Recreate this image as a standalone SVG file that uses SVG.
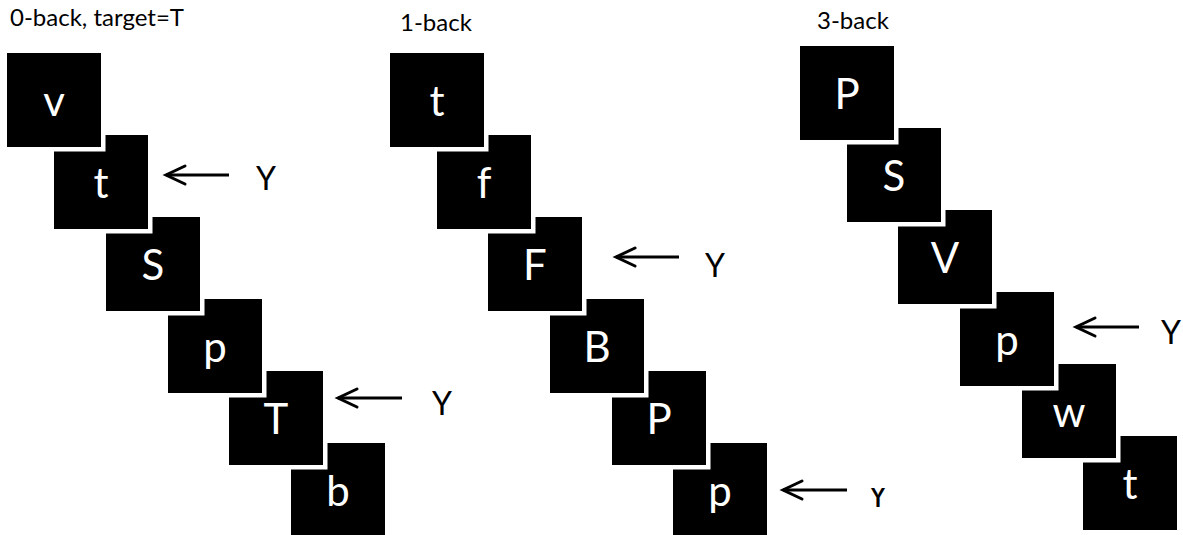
<svg xmlns="http://www.w3.org/2000/svg" width="1183" height="535" viewBox="0 0 1183 535">
  <style>
    .card { fill: #000; stroke: #fff; stroke-width: 9; paint-order: stroke; }
    .letter { fill: #fff; font-family: Lato, "Liberation Sans", sans-serif; font-size: 42px; text-anchor: middle; }
    .title { fill: #000; font-family: Lato, "Liberation Sans", sans-serif; font-size: 24px; }
    .resp { fill: #000; font-family: Lato, "Liberation Sans", sans-serif; font-size: 32px; }
    .arrow { stroke: #000; stroke-width: 3; fill: none; marker-end: url(#head); }
  </style>
  <defs>
    <marker id="head" markerUnits="userSpaceOnUse" viewBox="-24 -12 26 24" refX="0" refY="0" markerWidth="26" markerHeight="24" orient="auto" overflow="visible">
      <path d="M-19,-9 L0,0 L-19,9" fill="none" stroke="#000" stroke-width="3" stroke-linecap="round" stroke-linejoin="miter"/>
    </marker>
    <clipPath id="clipLow">
      <rect x="860" y="488" width="40" height="30"/>
    </clipPath>
  </defs>
  <rect width="1183" height="535" fill="#fff"/>

  <!-- column titles -->
  <text class="title" x="10" y="26">0-back, target=T</text>
  <text class="title" x="400" y="30.5">1-back</text>
  <text class="title" x="817" y="29">3-back</text>

  <!-- 0-back sequence (later cards drawn first so earlier ones sit on top) -->
  <g id="n0-6"><rect class="card" x="291" y="443" width="94" height="94"/><text class="letter" x="338" y="506">b</text></g>
  <g id="n0-5"><rect class="card" x="229" y="371" width="94" height="94"/><text class="letter" x="276" y="434">T</text></g>
  <g id="n0-4"><rect class="card" x="168" y="299" width="94" height="94"/><text class="letter" x="215" y="362">p</text></g>
  <g id="n0-3"><rect class="card" x="106" y="217" width="94" height="94"/><text class="letter" x="153" y="280">S</text></g>
  <g id="n0-2"><rect class="card" x="54" y="135" width="94" height="94"/><text class="letter" x="101" y="198">t</text></g>
  <g id="n0-1"><rect class="card" x="7" y="53" width="94" height="94"/><text class="letter" x="54" y="116">v</text></g>

  <!-- 1-back sequence -->
  <g id="n1-6"><rect class="card" x="673" y="443" width="94" height="94"/><text class="letter" x="720" y="506">p</text></g>
  <g id="n1-5"><rect class="card" x="612" y="371" width="94" height="94"/><text class="letter" x="659" y="434">P</text></g>
  <g id="n1-4"><rect class="card" x="550" y="299" width="94" height="94"/><text class="letter" x="597" y="362">B</text></g>
  <g id="n1-3"><rect class="card" x="488" y="217" width="94" height="94"/><text class="letter" x="535" y="280">F</text></g>
  <g id="n1-2"><rect class="card" x="437" y="135" width="94" height="94"/><text class="letter" x="484" y="198">f</text></g>
  <g id="n1-1"><rect class="card" x="390" y="53" width="94" height="94"/><text class="letter" x="437" y="116">t</text></g>

  <!-- 3-back sequence -->
  <g id="n3-6"><rect class="card" x="1083" y="436" width="94" height="94"/><text class="letter" x="1130" y="499">t</text></g>
  <g id="n3-5"><rect class="card" x="1022" y="364" width="94" height="94"/><text class="letter" x="1069" y="427">w</text></g>
  <g id="n3-4"><rect class="card" x="960" y="292" width="94" height="94"/><text class="letter" x="1007" y="355">p</text></g>
  <g id="n3-3"><rect class="card" x="898" y="210" width="94" height="94"/><text class="letter" x="945" y="273">V</text></g>
  <g id="n3-2"><rect class="card" x="847" y="128" width="94" height="94"/><text class="letter" x="894" y="191">S</text></g>
  <g id="n3-1"><rect class="card" x="800" y="46" width="94" height="94"/><text class="letter" x="847" y="109">P</text></g>

  <!-- response arrows -->
  <g id="connectors">
    <line class="arrow" x1="229" y1="175" x2="166" y2="175"/>
    <line class="arrow" x1="402" y1="398" x2="338" y2="398"/>
    <line class="arrow" x1="679" y1="257" x2="616" y2="257"/>
    <line class="arrow" x1="847" y1="490" x2="783" y2="490"/>
    <line class="arrow" x1="1139" y1="327" x2="1076" y2="327"/>
  </g>

  <!-- response labels -->
  <g id="labels">
    <text class="resp" x="256" y="190">Y</text>
    <text class="resp" x="432" y="415">Y</text>
    <text class="resp" x="705" y="277">Y</text>
    <text class="resp" x="868" y="507" clip-path="url(#clipLow)">Y</text>
    <text class="resp" x="1161" y="344">Y</text>
  </g>
</svg>
